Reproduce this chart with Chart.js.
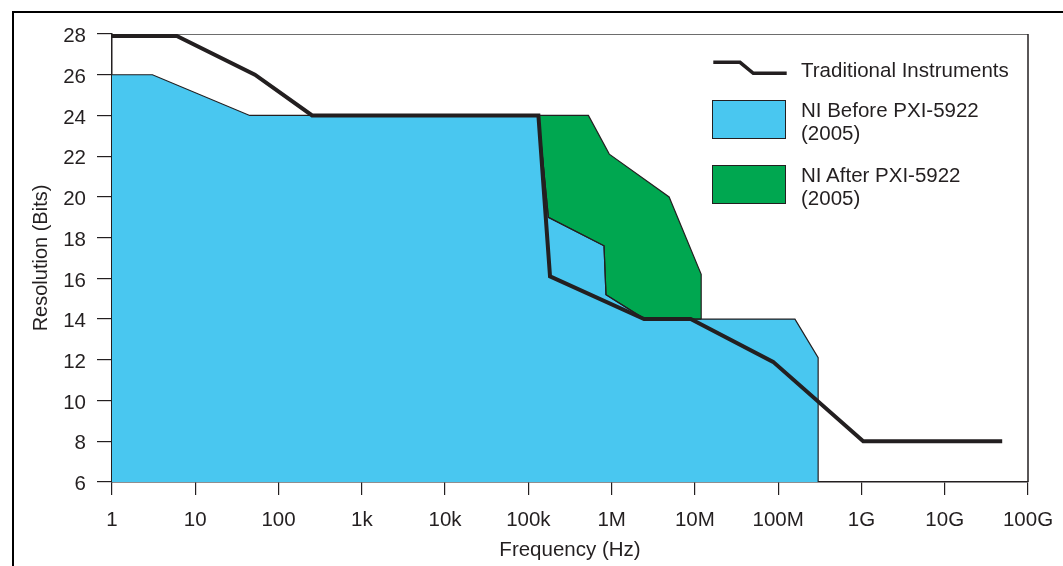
<!DOCTYPE html>
<html>
<head>
<meta charset="utf-8">
<script src="https://cdn.jsdelivr.net/npm/chart.js@4/dist/chart.umd.min.js"></script>
<style>
    html, body { margin: 0; padding: 0; background: #fff; }
    #wrap { position: relative; width: 1063px; height: 566px; overflow: hidden; font-family: "Liberation Sans", Arial, sans-serif; color: #231f20; }
    #frame { position: absolute; left: 12px; top: 11px; width: 1200px; height: 700px; border-left: 2px solid #000; border-top: 2px solid #000; }
    #chartBox { position: absolute; left: 0; top: 0; width: 1063px; height: 566px; }
    .legText { position: absolute; left: 801px; font-size: 20.5px; line-height: 22.5px; white-space: nowrap; }
    .legBox { position: absolute; left: 712px; width: 74px; height: 39px; box-sizing: border-box; border: 1.5px solid #231f20; }
</style>
</head>
<body>
<div id="wrap">
    <div id="frame"></div>
    <div id="chartBox"><canvas id="resChart" width="1063" height="566"></canvas></div>

    <svg style="position:absolute;left:712px;top:55px" width="80" height="26">
        <polyline points="1.3,7.3 28,7.3 41.3,18.3 74.7,18.3" fill="none" stroke="#231f20" stroke-width="3.6"/>
    </svg>
    <div class="legText" style="top:59px">Traditional Instruments</div>

    <div class="legBox" style="top:100px;background:#49c7f0"></div>
    <div class="legText" style="top:99px">NI Before PXI-5922<br>(2005)</div>

    <div class="legBox" style="top:165px;background:#00a750"></div>
    <div class="legText" style="top:164px">NI After PXI-5922<br>(2005)</div>
</div>

<script>
// axis ticks
const freqTicks = [1, 10, 100, 1e3, 1e4, 1e5, 1e6, 1e7, 1e8, 1e9, 1e10, 1e11];
const freqTickLabels = ['1', '10', '100', '1k', '10k', '100k', '1M', '10M', '100M', '1G', '10G', '100G'];

// Traditional Instruments (thick black line)
const tradFreq = [1, 6, 52, 253, 1.32e5, 1.82e5, 2.45e6, 8.9e6, 8.7e7, 1.05e9, 4.9e10];
const tradBits = [27.9, 27.9, 26, 24, 24, 16.1, 14, 14, 11.9, 8, 8];

// NI before PXI-5922 (blue area)
const beforeFreq = [1, 3.06, 45, 1.32e5, 1.74e5, 8.1e5, 8.55e5, 2.5e6, 1.59e8, 3.02e8, 3.02e8];
const beforeBits = [26, 26, 24, 24, 19, 17.6, 15.2, 14, 14, 12.1, 6];

// NI after PXI-5922 (green area, between upper and lower edge)
const afterUpperFreq = [1.32e5, 5.26e5, 9.37e5, 4.9e6, 1.19e7, 1.19e7];
const afterUpperBits = [24, 24, 22.1, 20, 16.2, 14];
const afterLowerFreq = [1.32e5, 1.74e5, 8.1e5, 8.55e5, 2.5e6, 1.19e7];
const afterLowerBits = [24, 19, 17.6, 15.2, 14, 14];

const ink = '#231f20';
const fontFamily = '"Liberation Sans", Arial, sans-serif';

function toPoints(xs, ys) {
    return xs.map((x, i) => ({ x: x, y: ys[i] }));
}

// top and right edge of the plot box
const frameLines = {
    id: 'frameLines',
    beforeDatasetsDraw(chart) {
        const ctx = chart.ctx;
        const a = chart.chartArea;
        ctx.save();
        ctx.strokeStyle = '#6d6d6d';
        ctx.lineWidth = 1;
        ctx.beginPath();
        ctx.moveTo(a.left, a.top + 0.5);
        ctx.lineTo(a.right, a.top + 0.5);
        ctx.stroke();
        ctx.strokeStyle = ink;
        ctx.lineWidth = 1.5;
        ctx.beginPath();
        ctx.moveTo(a.right, a.top);
        ctx.lineTo(a.right, a.bottom);
        ctx.stroke();
        ctx.restore();
    }
};

const ctx = document.getElementById('resChart').getContext('2d');
new Chart(ctx, {
    type: 'line',
    data: {
        datasets: [
            {
                label: 'Traditional Instruments',
                data: toPoints(tradFreq, tradBits),
                borderColor: ink,
                borderWidth: 4,
                fill: false
            },
            {
                label: 'NI After PXI-5922 (2005)',
                data: toPoints(afterUpperFreq, afterUpperBits),
                borderColor: ink,
                borderWidth: 1.2,
                backgroundColor: '#00a750',
                fill: '+1'
            },
            {
                label: 'NI After lower edge',
                data: toPoints(afterLowerFreq, afterLowerBits),
                borderColor: ink,
                borderWidth: 1.2,
                fill: false
            },
            {
                label: 'NI Before PXI-5922 (2005)',
                data: toPoints(beforeFreq, beforeBits),
                borderColor: ink,
                borderWidth: 1.2,
                backgroundColor: '#49c7f0',
                fill: 'start'
            }
        ]
    },
    options: {
        responsive: false,
        animation: false,
        layout: { padding: { top: 34, right: 35, left: 0, bottom: 0 } },
        elements: {
            point: { radius: 0, hoverRadius: 0 },
            line: { tension: 0, borderJoinStyle: 'miter' }
        },
        plugins: {
            legend: { display: false },
            tooltip: { enabled: false },
            filler: { drawTime: 'beforeDatasetsDraw' }
        },
        scales: {
            x: {
                type: 'logarithmic',
                min: 1,
                max: 1e11,
                z: 1,
                afterFit: scale => {
                    scale.height = 84;
                    scale.paddingLeft = 0;
                    scale.paddingRight = 0;
                },
                afterBuildTicks: scale => {
                    scale.ticks = freqTicks.map(v => ({ value: v }));
                },
                grid: { drawOnChartArea: false, drawTicks: true, tickLength: 13, color: ink, lineWidth: 1.2 },
                border: { display: true, color: ink, width: 1.5 },
                ticks: {
                    autoSkip: false,
                    maxRotation: 0,
                    padding: 13,
                    color: ink,
                    font: { family: fontFamily, size: 20.5 },
                    callback: (value, index) => freqTickLabels[index]
                },
                title: {
                    display: true,
                    text: 'Frequency (Hz)',
                    color: ink,
                    font: { family: fontFamily, size: 20.5 },
                    padding: { top: 0, bottom: 3 }
                }
            },
            y: {
                min: 6,
                max: 28,
                z: 1,
                afterFit: scale => { scale.width = 112; },
                grid: { drawOnChartArea: false, drawTicks: true, tickLength: 15, color: ink, lineWidth: 1.2 },
                border: { display: true, color: ink, width: 1.5 },
                ticks: {
                    stepSize: 2,
                    padding: 11,
                    labelOffset: 2.5,
                    color: ink,
                    font: { family: fontFamily, size: 20.5 }
                },
                title: {
                    display: true,
                    text: 'Resolution (Bits)',
                    color: ink,
                    font: { family: fontFamily, size: 20 },
                    padding: { top: 29, bottom: 0 }
                }
            }
        }
    },
    plugins: [frameLines]
});
</script>
</body>
</html>
